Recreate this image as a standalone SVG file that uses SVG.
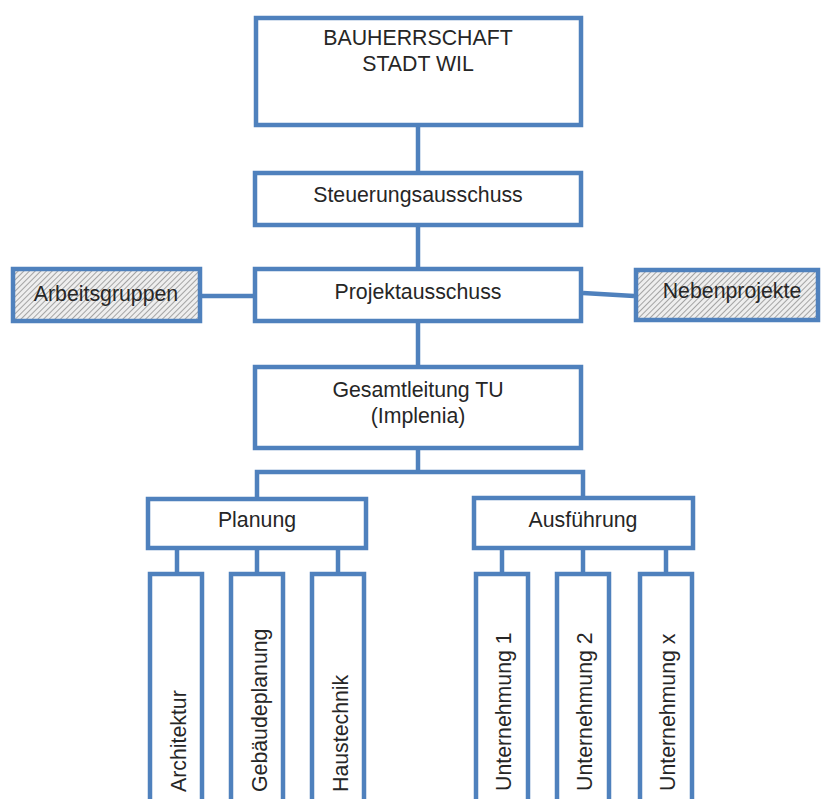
<svg xmlns="http://www.w3.org/2000/svg" width="822" height="799" viewBox="0 0 822 799">
<defs>
<pattern id="hatch" width="4" height="4" patternUnits="userSpaceOnUse" patternTransform="rotate(45)">
<rect width="4" height="4" fill="#eeeeee"/>
<line x1="0" y1="0" x2="0" y2="4" stroke="#8c8c8c" stroke-width="1.5"/>
</pattern>
<style>
.box{fill:#ffffff;stroke:#4F81BD;stroke-width:4.5}
.hbox{fill:url(#hatch);stroke:#4F81BD;stroke-width:4.5}
.con{fill:none;stroke:#4F81BD;stroke-width:4.5}
text{font-family:"Liberation Sans",Arial,sans-serif;font-size:21.3px;fill:#262626}
.c{text-anchor:middle}
</style>
</defs>
<rect width="822" height="799" fill="#ffffff"/>
<g id="connectors">
<line class="con" x1="418" y1="127" x2="418" y2="171"/>
<line class="con" x1="418" y1="227" x2="418" y2="267"/>
<line class="con" x1="418" y1="323" x2="418" y2="365"/>
<polyline class="con" points="418,450 418,472"/>
<polyline class="con" points="257,497 257,472 583,472 583,496"/>
<line class="con" x1="202" y1="296" x2="253" y2="296"/>
<line class="con" x1="583" y1="293" x2="634" y2="296"/>
<line class="con" x1="177" y1="550" x2="177" y2="572"/>
<line class="con" x1="257" y1="550" x2="257" y2="572"/>
<line class="con" x1="338" y1="550" x2="338" y2="572"/>
<line class="con" x1="502" y1="550" x2="502" y2="572"/>
<line class="con" x1="583" y1="550" x2="583" y2="572"/>
<line class="con" x1="666" y1="550" x2="666" y2="572"/>
</g>
<g id="bauherrschaft">
<rect class="box" x="256" y="18" width="325" height="107"/>
<text class="c" x="418" y="45">BAUHERRSCHAFT</text>
<text class="c" x="418" y="71">STADT WIL</text>
</g>
<g id="steuerungsausschuss">
<rect class="box" x="255" y="173" width="326" height="52"/>
<text class="c" x="418" y="202">Steuerungsausschuss</text>
</g>
<g id="projektausschuss">
<rect class="box" x="255" y="269" width="326" height="52"/>
<text class="c" x="418" y="299">Projektausschuss</text>
</g>
<g id="arbeitsgruppen">
<rect class="hbox" x="13" y="269" width="187" height="52"/>
<text class="c" x="106" y="301">Arbeitsgruppen</text>
</g>
<g id="nebenprojekte">
<rect class="hbox" x="636" y="270" width="182" height="50"/>
<text class="c" x="732" y="298">Nebenprojekte</text>
</g>
<g id="gesamtleitung">
<rect class="box" x="255" y="367" width="326" height="81"/>
<text class="c" x="418" y="397">Gesamtleitung TU</text>
<text class="c" x="418" y="423">(Implenia)</text>
</g>
<g id="planung">
<rect class="box" x="148" y="499" width="218" height="49"/>
<text class="c" x="257" y="527">Planung</text>
</g>
<g id="ausfuehrung">
<rect class="box" x="474" y="498" width="219" height="50"/>
<text class="c" x="583" y="527">Ausführung</text>
</g>
<g id="architektur">
<rect class="box" x="150" y="574" width="52" height="260"/>
<text transform="translate(186,792) rotate(-90)">Architektur</text>
</g>
<g id="gebaeudeplanung">
<rect class="box" x="231" y="574" width="52" height="260"/>
<text transform="translate(267,792) rotate(-90)">Gebäudeplanung</text>
</g>
<g id="haustechnik">
<rect class="box" x="312" y="574" width="52" height="260"/>
<text transform="translate(348,792) rotate(-90)">Haustechnik</text>
</g>
<g id="unternehmung1">
<rect class="box" x="476" y="574" width="52" height="260"/>
<text transform="translate(511,791) rotate(-90)">Unternehmung 1</text>
</g>
<g id="unternehmung2">
<rect class="box" x="557" y="574" width="52" height="260"/>
<text transform="translate(592,791) rotate(-90)">Unternehmung 2</text>
</g>
<g id="unternehmungx">
<rect class="box" x="640" y="574" width="52" height="260"/>
<text transform="translate(675,791) rotate(-90)">Unternehmung x</text>
</g>
</svg>
